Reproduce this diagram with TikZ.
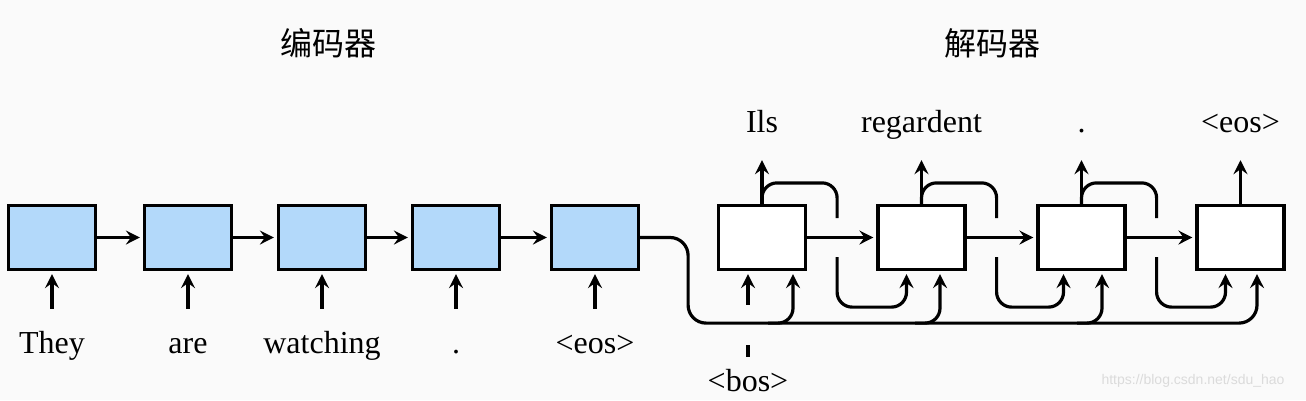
\documentclass[tikz,border=0pt]{standalone}
\usepackage{fontspec}
\setmainfont{Liberation Serif}
\newfontfamily\cjk{Noto Sans CJK SC}
\newfontfamily\wmfont{Liberation Sans}
\usetikzlibrary{arrows.meta,calc}
\definecolor{encblue}{RGB}{179,217,250}
\definecolor{bgwhite}{RGB}{250,250,250}
\tikzset{
  cell/.style={draw, line width=3.2pt, minimum width=87pt, minimum height=64pt, inner sep=0pt},
  enc/.style={cell, fill=encblue},
  dec/.style={cell, fill=white},
  wire/.style={line width=3.2pt},
  arr/.style={wire, shorten >=3pt, -{Stealth[length=14pt,width=14pt,inset=5pt]}},
  word/.style={font=\fontsize{32}{36}\selectfont, inner sep=0pt, text height=22pt, text depth=7pt, anchor=base},
  title/.style={font=\cjk\fontsize{32}{36}\selectfont, inner sep=0pt},
}

\begin{document}
\begin{tikzpicture}[x=1pt,y=-1pt]
            \fill[bgwhite] (0,0) rectangle (1306,400);
            \useasboundingbox (0,0) rectangle (1306,400);
            % titles
            \node[title] (enctitle) at (328,43) {编码器};
            \node[title] (dectitle) at (992,43) {解码器};
            % encoder
            \node[enc] (e1) at (52,237.5) {};
            \node[enc] (e2) at (188,237.5) {};
            \node[enc] (e3) at (322,237.5) {};
            \node[enc] (e4) at (456,237.5) {};
            \node[enc] (e5) at (595,237.5) {};
            \node[word] (w1) at (52,353) {They};
            \node[word] (w2) at (188,353) {are};
            \node[word] (w3) at (322,353) {watching};
            \node[word] (w4) at (456,353) {.};
            \node[word] (w5) at (595,353) {<eos>};
            \draw[arr] (e1) -- (e2);
            \draw[arr] (e2) -- (e3);
            \draw[arr] (e3) -- (e4);
            \draw[arr] (e4) -- (e5);
            \draw[arr, shorten <=22pt] (w1.north) -- (e1.south);
            \draw[arr, shorten <=22pt] (w2.north) -- (e2.south);
            \draw[arr, shorten <=22pt] (w3.north) -- (e3.south);
            \draw[arr, shorten <=22pt] (w4.north) -- (e4.south);
            \draw[arr, shorten <=22pt] (w5.north) -- (e5.south);
            % decoder
            \node[dec] (d1) at (762,237.5) {};
            \node[dec] (d2) at (921.5,237.5) {};
            \node[dec] (d3) at (1081.5,237.5) {};
            \node[dec] (d4) at (1240.5,237.5) {};
            \node[word] (o1) at (762,132) {Ils};
            \node[word] (o2) at (921.5,132) {regardent};
            \node[word] (o3) at (1081.5,132) {.};
            \node[word] (o4) at (1240.5,132) {<eos>};
            \node[word, text depth=0pt] (bos) at (748,391) {<bos>};
            \draw[arr] (d1) -- (d2);
            \draw[arr] (d2) -- (d3);
            \draw[arr] (d3) -- (d4);
            \draw[arr, shorten >=21pt] (d1.north) -- (o1.south);
            \draw[arr, shorten >=21pt] (d2.north) -- (o2.south);
            \draw[arr, shorten >=21pt] (d3.north) -- (o3.south);
            \draw[arr, shorten >=21pt] (d4.north) -- (o4.south);
            % bos input, broken where the context line passes
            \draw[wire] ([yshift=12pt]bos.north) -- ([yshift=24pt]bos.north);
            \draw[arr] ([yshift=64pt]bos.north) -- (bos.north |- d1.south);
            % outputs fed back to the next step
            \draw[wire, rounded corners=15pt] (d1.north) -- ++(0,-21) -| ([xshift=30pt,yshift=19.5pt]d1.east);
            \draw[arr, rounded corners=15pt] ([xshift=30pt,yshift=-19.5pt]d1.east) |- ([xshift=-15pt,yshift=-36pt]d2.south) -- ([xshift=-15pt]d2.south);
            \draw[wire, rounded corners=15pt] (d2.north) -- ++(0,-21) -| ([xshift=30pt,yshift=19.5pt]d2.east);
            \draw[arr, rounded corners=15pt] ([xshift=30pt,yshift=-19.5pt]d2.east) |- ([xshift=-18pt,yshift=-36pt]d3.south) -- ([xshift=-18pt]d3.south);
            \draw[wire, rounded corners=15pt] (d3.north) -- ++(0,-21) -| ([xshift=30pt,yshift=19.5pt]d3.east);
            \draw[arr, rounded corners=15pt] ([xshift=30pt,yshift=-19.5pt]d3.east) |- ([xshift=-15pt,yshift=-36pt]d4.south) -- ([xshift=-15pt]d4.south);
            % context from the encoder to every decoder step
            \draw[arr, rounded corners=18pt] (e5.east) -- ([xshift=48pt]e5.east) |- ([xshift=16.5pt,yshift=-52pt]d4.south) -- ([xshift=16.5pt]d4.south);
            \draw[arr, rounded corners=15pt] ([xshift=31pt,yshift=-52pt]d1.south) ++(-25,0) -| ([xshift=31pt]d1.south);
            \draw[arr, rounded corners=15pt] ([xshift=18.5pt,yshift=-52pt]d2.south) ++(-25,0) -| ([xshift=18.5pt]d2.south);
            \draw[arr, rounded corners=15pt] ([xshift=20.5pt,yshift=-52pt]d3.south) ++(-25,0) -| ([xshift=20.5pt]d3.south);
            % watermark
            \node[font=\wmfont\fontsize{14}{16}\selectfont, text=black!14, inner sep=0pt] (mark) at (1193,381) {https://blog.csdn.net/sdu\_hao};
\end{tikzpicture}
\end{document}
